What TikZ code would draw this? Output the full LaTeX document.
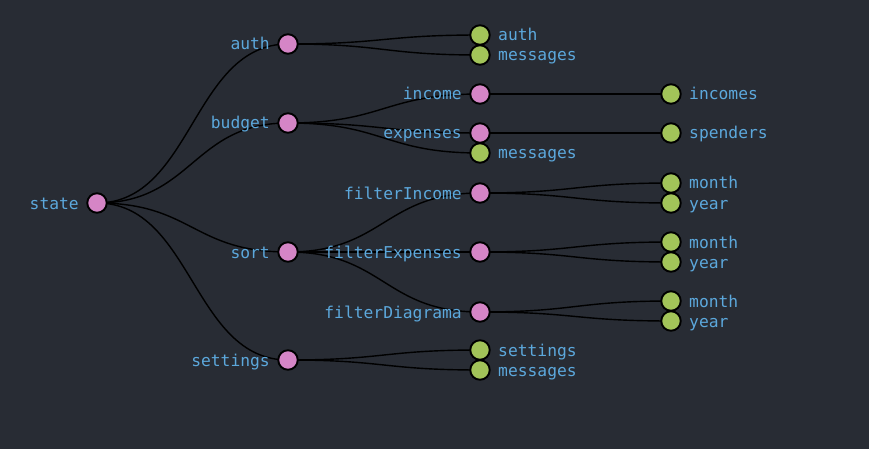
\documentclass[tikz,border=0pt]{standalone}
\usepackage{fontspec}
\setmonofont{DejaVu Sans Mono}
\definecolor{bg}{HTML}{282C34}
\definecolor{pinkn}{HTML}{D585C6}
\definecolor{greenn}{HTML}{A2C459}
\definecolor{txt}{HTML}{5CA8DC}
\tikzset{
  dot/.style={circle,draw=black,line width=1.9pt,minimum size=19.5pt,inner sep=0pt},
  inner/.style={dot,fill=pinkn},
  leaf/.style={dot,fill=greenn},
  lbl/.style={text=txt,font=\ttfamily\fontsize{16.3}{19}\selectfont,inner sep=0pt},
  lbll/.style={lbl,anchor=base east},
  lblr/.style={lbl,anchor=base west},
  link/.style={draw=black,line width=1.4pt}
}
\newcommand{\lnk}[2]{%
  \path[link] (#1.center) .. controls ($(#1.center)!0.5!(#2.center |- #1.center)$) and ($(#2.center)!0.5!(#1.center |- #2.center)$) .. (#2.center);}
\usetikzlibrary{calc}
\begin{document}
\begin{tikzpicture}[x=1pt,y=-1pt]
\fill[bg] (0,0) rectangle (869,449);
\useasboundingbox (0,0) rectangle (869,449);
% coordinates for nodes
\coordinate (p-state) at (97,203);
\coordinate (p-auth) at (288,44);
\coordinate (p-budget) at (288,123);
\coordinate (p-sort) at (288,252);
\coordinate (p-settings) at (288,360);
\coordinate (p-a1) at (480,35);
\coordinate (p-a2) at (480,55);
\coordinate (p-income) at (480,94);
\coordinate (p-expenses) at (480,133);
\coordinate (p-bmsg) at (480,153);
\coordinate (p-incomes) at (671,94);
\coordinate (p-spenders) at (671,133);
\coordinate (p-fi) at (480,193);
\coordinate (p-fe) at (480,252);
\coordinate (p-fd) at (480,312);
\coordinate (p-fim) at (671,183);
\coordinate (p-fiy) at (671,203);
\coordinate (p-fem) at (671,242);
\coordinate (p-fey) at (671,262);
\coordinate (p-fdm) at (671,301);
\coordinate (p-fdy) at (671,321);
\coordinate (p-s1) at (480,350);
\coordinate (p-s2) at (480,370);
% links
\lnk{p-state}{p-auth}
\lnk{p-state}{p-budget}
\lnk{p-state}{p-sort}
\lnk{p-state}{p-settings}
\lnk{p-auth}{p-a1}
\lnk{p-auth}{p-a2}
\lnk{p-budget}{p-income}
\lnk{p-budget}{p-expenses}
\lnk{p-budget}{p-bmsg}
\lnk{p-income}{p-incomes}
\lnk{p-expenses}{p-spenders}
\lnk{p-sort}{p-fi}
\lnk{p-sort}{p-fe}
\lnk{p-sort}{p-fd}
\lnk{p-fi}{p-fim}
\lnk{p-fi}{p-fiy}
\lnk{p-fe}{p-fem}
\lnk{p-fe}{p-fey}
\lnk{p-fd}{p-fdm}
\lnk{p-fd}{p-fdy}
\lnk{p-settings}{p-s1}
\lnk{p-settings}{p-s2}
% nodes
\foreach \n in {state,auth,budget,sort,settings,income,expenses,fi,fe,fd}
  \node[inner] (n-\n) at (p-\n) {};
\foreach \n in {a1,a2,bmsg,incomes,spenders,fim,fiy,fem,fey,fdm,fdy,s1,s2}
  \node[leaf] (n-\n) at (p-\n) {};
% labels
\node[lbll] (t-state) at ($(p-state)+(-18,6)$) {state};
\node[lbll] (t-auth) at ($(p-auth)+(-18,6)$) {auth};
\node[lbll] (t-budget) at ($(p-budget)+(-18,6)$) {budget};
\node[lbll] (t-sort) at ($(p-sort)+(-18,6)$) {sort};
\node[lbll] (t-settings) at ($(p-settings)+(-18,6)$) {settings};
\node[lbll] (t-income) at ($(p-income)+(-18,6)$) {income};
\node[lbll] (t-expenses) at ($(p-expenses)+(-18,6)$) {expenses};
\node[lbll] (t-fi) at ($(p-fi)+(-18,6)$) {filterIncome};
\node[lbll] (t-fe) at ($(p-fe)+(-18,6)$) {filterExpenses};
\node[lbll] (t-fd) at ($(p-fd)+(-18,6)$) {filterDiagrama};
\node[lblr] (t-a1) at ($(p-a1)+(18,6)$) {auth};
\node[lblr] (t-a2) at ($(p-a2)+(18,6)$) {messages};
\node[lblr] (t-bmsg) at ($(p-bmsg)+(18,6)$) {messages};
\node[lblr] (t-incomes) at ($(p-incomes)+(18,6)$) {incomes};
\node[lblr] (t-spenders) at ($(p-spenders)+(18,6)$) {spenders};
\node[lblr] (t-fim) at ($(p-fim)+(18,6)$) {month};
\node[lblr] (t-fiy) at ($(p-fiy)+(18,6)$) {year};
\node[lblr] (t-fem) at ($(p-fem)+(18,6)$) {month};
\node[lblr] (t-fey) at ($(p-fey)+(18,6)$) {year};
\node[lblr] (t-fdm) at ($(p-fdm)+(18,6)$) {month};
\node[lblr] (t-fdy) at ($(p-fdy)+(18,6)$) {year};
\node[lblr] (t-s1) at ($(p-s1)+(18,6)$) {settings};
\node[lblr] (t-s2) at ($(p-s2)+(18,6)$) {messages};
\end{tikzpicture}
\end{document}
